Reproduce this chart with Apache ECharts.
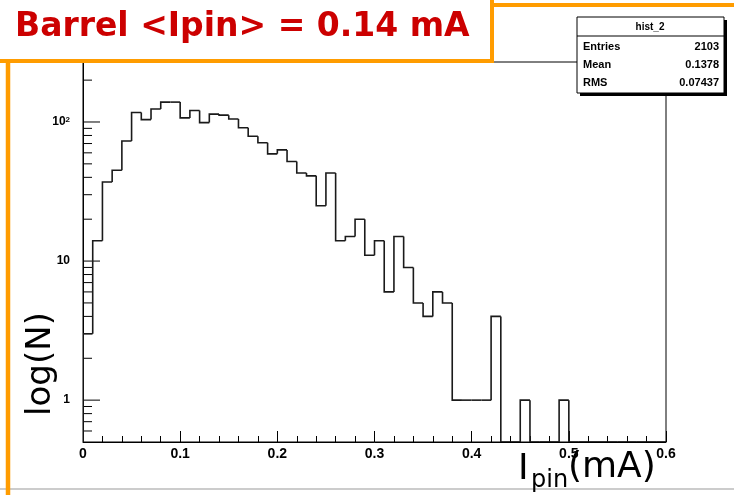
<!DOCTYPE html>
<html>
<head>
<meta charset="utf-8">
<script src="https://cdn.jsdelivr.net/npm/echarts@6/dist/echarts.min.js"></script>
<style>
html,body{margin:0;padding:0;background:#fff;}
#chart{width:734px;height:495px;}
</style>
</head>
<body>
<div id="chart"></div>
<script>
// histogram: 60 bins of 0.01 mA, counts
var binWidth = 0.01;
var counts = [3,14,37,45,73,117,104,124,139,139,
              107,121,99,114,112,105,91,79,71,59,
              63,52,43,41,25,43,14,15,20,11,
              14,6,15,9,5,4,6,5,1,1,
              1,1,4,0,0,1,0,0,0,1,
              0,0,0,0,0,0,0,0,0,0];
var yMajorTicks = [1, 10, 100];
var yMinorTicks = [0.6,0.7,0.8,0.9,2,3,4,5,6,7,8,9,20,30,40,50,60,70,80,90,200];
var histName = 'hist_2';
var statsNames = ['Entries', 'Mean', 'RMS'];
var statsValues = ['2103', '0.1378', '0.07437'];
var titleText = 'Barrel <Ipin> = 0.14 mA';
var yMin = 0.5, yMax = 270;

var orange = '#ff9c00';
var labFont = 'Liberation Sans';

var histData = counts.map(function(c, i){
    var prev = i > 0 ? counts[i-1] : 0;
    return [i*binWidth, (i+1)*binWidth, Math.max(c, yMin), Math.max(prev, yMin)];
});
var tickData = yMajorTicks.map(function(v){ return [0, v, 17]; })
    .concat(yMinorTicks.map(function(v){ return [0, v, 9]; }));

var myChart = echarts.init(document.getElementById('chart'));

var statsChildren = [
    {type:'rect', shape:{x:580, y:20, width:147, height:76}, style:{fill:'#000'}},
    {type:'rect', shape:{x:577, y:17, width:147, height:76}, style:{fill:'#fff', stroke:'#000', lineWidth:1}},
    {type:'line', shape:{x1:577, y1:36, x2:724, y2:36}, style:{stroke:'#000', lineWidth:1}},
    {type:'text', x:650, y:27, style:{text:histName, fontFamily:labFont, fontWeight:'bold', fontSize:10, fill:'#000', align:'center', verticalAlign:'middle'}}
];
statsNames.forEach(function(n, i){
    var y = 47 + i*18;
    statsChildren.push({type:'text', x:583, y:y, style:{text:n, fontFamily:labFont, fontWeight:'bold', fontSize:11, fill:'#000', verticalAlign:'middle'}});
    statsChildren.push({type:'text', x:719, y:y, style:{text:statsValues[i], fontFamily:labFont, fontWeight:'bold', fontSize:11, fill:'#000', align:'right', verticalAlign:'middle'}});
});

var option = {
    animation: false,
    backgroundColor: '#fff',
    grid: {left:83, right:68, top:62, bottom:53, show:true, borderColor:'#000', borderWidth:1, backgroundColor:'transparent'},
    xAxis: {
        type:'value', min:0, max:0.6, interval:0.1,
        axisLine:{lineStyle:{color:'#000', width:1}},
        axisTick:{inside:true, length:11, lineStyle:{color:'#000'}},
        minorTick:{show:true, splitNumber:5, length:6, lineStyle:{color:'#000'}},
        splitLine:{show:false},
        axisLabel:{color:'#000', fontWeight:'bold', fontSize:14, fontFamily:labFont, margin:5,
            formatter:function(v){ return String(+v.toFixed(1)); }}
    },
    yAxis: {
        type:'log', logBase:10, min:yMin, max:yMax,
        axisLine:{show:true, lineStyle:{color:'#000', width:1}},
        axisTick:{show:false},
        minorTick:{show:false},
        splitLine:{show:false},
        axisLabel:{color:'#000', fontWeight:'bold', fontSize:12, fontFamily:labFont, margin:13,
            formatter:function(v){
                var e = Math.round(Math.log(v)/Math.LN10*1000)/1000;
                if (e === 0) return '1';
                if (e === 1) return '10';
                if (e === 2) return '10{s|2}';
                return '';
            },
            rich:{s:{fontSize:8, fontWeight:'bold', fontFamily:labFont, verticalAlign:'top'}}
        }
    },
    series: [
        {
            type:'custom', name:'ticks', clip:false,
            data: tickData,
            encode:{x:0, y:1},
            renderItem:function(params, api){
                var p = api.coord([api.value(0), api.value(1)]);
                var len = api.value(2);
                return {type:'line', shape:{x1:p[0], y1:p[1], x2:p[0]+len, y2:p[1]},
                    style:{stroke:'#000', lineWidth:1}};
            }
        },
        {
            type:'custom', name:histName, clip:true,
            data: histData,
            encode:{x:[0,1], y:2},
            renderItem:function(params, api){
                var lo = api.value(0), hi = api.value(1);
                var v = api.value(2), p = api.value(3);
                var a = api.coord([lo, p]), b = api.coord([lo, v]), c = api.coord([hi, v]);
                return {type:'polyline', shape:{points:[a, b, c]},
                    style:{stroke:'#1a1a1a', lineWidth:1.6, fill:null}};
            }
        }
    ],
    graphic: [
        // light rule at the bottom and outer orange frame
        {type:'line', shape:{x1:0, y1:489, x2:734, y2:489}, style:{stroke:'#cccccc', lineWidth:2}, z:100},
        {type:'line', shape:{x1:8, y1:60, x2:8, y2:495}, style:{stroke:orange, lineWidth:4.5}, z:101},
        {type:'line', shape:{x1:490, y1:5, x2:734, y2:5}, style:{stroke:orange, lineWidth:4}, z:101},
        // title box
        {type:'rect', shape:{x:-10, y:-10, width:502, height:71}, style:{fill:'#fff', stroke:orange, lineWidth:4}, z:102},
        {type:'text', x:15, y:27, z:103, style:{text:titleText, fontFamily:'DejaVu Sans', fontWeight:'bold', fontSize:33, fill:'#cc0000', verticalAlign:'middle'}},
        // stats box
        {type:'group', z:104, children:statsChildren},
        // axis titles
        {type:'text', x:41, y:364, rotation:Math.PI/2, z:103, style:{text:'log(N)', fontFamily:'DejaVu Sans', fontSize:34, fill:'#000', align:'center', verticalAlign:'middle'}},
        {type:'text', x:518, y:470, z:103, style:{text:'I', fontFamily:'DejaVu Sans', fontSize:36, fill:'#000', verticalAlign:'middle'}},
        {type:'text', x:531, y:481, z:103, style:{text:'pin', fontFamily:'DejaVu Sans', fontSize:24, fill:'#000', verticalAlign:'middle'}},
        {type:'text', x:568, y:468, z:103, style:{text:'(mA)', fontFamily:'DejaVu Sans', fontSize:36, fill:'#000', verticalAlign:'middle'}}
    ]
};
myChart.setOption(option);
</script>
</body>
</html>
